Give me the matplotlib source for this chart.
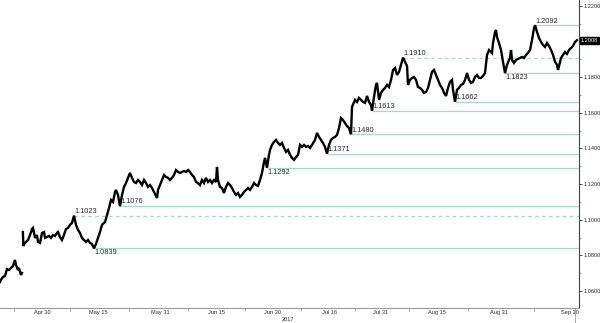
import numpy as np
import matplotlib
matplotlib.use('Agg')
import matplotlib.pyplot as plt
import matplotlib.transforms as mtransforms
from matplotlib.ticker import FixedLocator, MultipleLocator, FuncFormatter

# ---- data (trading days from 1 May 2017, EUR/USD) ----
days = [-9.16, -8.97, -8.58, -8.19, -7.80, -7.41, -7.02, -6.63, -6.24, -6.04, -5.65, -5.46, -5.26, -5.07, -4.87,
        -4.70, -4.60, -4.48, -4.09, -3.70, -3.31, -2.92, -2.73, -2.34, -1.95, -1.75, -1.36, -0.97, -0.58, -0.39,
        0.00, 0.39, 0.78, 1.17, 1.56, 1.95, 2.14, 2.53, 2.92, 3.31, 3.70, 4.09, 4.48, 4.87, 5.26, 5.65, 6.04,
        6.43, 6.82, 7.21, 7.60, 7.99, 8.38, 8.77, 9.16, 9.55, 9.94, 10.33, 10.72, 11.31, 11.70, 12.09, 12.48,
        12.87, 13.26, 13.45, 13.84, 14.23, 14.62, 15.01, 15.40, 15.79, 16.18, 16.57, 16.96, 17.35, 17.74, 18.13,
        18.52, 18.91, 19.30, 19.69, 20.08, 20.47, 20.86, 21.44, 21.64, 22.03, 22.42, 22.81, 23.20, 23.59, 23.98,
        24.37, 24.76, 25.15, 25.54, 25.93, 26.32, 26.71, 27.10, 27.49, 27.88, 28.27, 28.65, 29.04, 29.43, 29.82,
        30.21, 30.60, 30.99, 31.38, 31.77, 32.16, 32.55, 32.94, 33.14, 33.33, 33.72, 34.11, 34.50, 34.89, 35.28,
        35.67, 36.06, 36.45, 36.84, 37.23, 37.62, 38.01, 38.40, 38.79, 39.18, 39.57, 39.96, 40.35, 40.74, 41.13,
        41.52, 41.91, 42.30, 42.50, 42.88, 43.27, 43.47, 43.86, 44.25, 44.64, 45.03, 45.42, 45.81, 46.20, 46.59,
        46.98, 47.37, 47.76, 48.15, 48.54, 48.93, 49.32, 49.71, 50.10, 50.49, 50.88, 51.27, 51.66, 52.24, 52.63,
        53.02, 53.41, 53.80, 54.19, 54.58, 54.97, 55.36, 55.75, 56.14, 56.53, 56.92, 57.31, 57.70, 58.09, 58.48,
        58.87, 59.26, 59.45, 60.04, 60.43, 60.82, 61.21, 61.60, 61.99, 62.38, 62.77, 63.16, 63.35, 63.74, 64.13,
        64.33, 64.72, 65.11, 65.50, 65.89, 66.28, 66.67, 67.06, 67.45, 67.84, 68.23, 68.62, 69.01, 69.40, 69.79,
        70.18, 70.37, 70.76, 71.15, 71.54, 71.93, 72.32, 72.71, 73.10, 73.49, 73.88, 74.27, 74.66, 75.05, 75.44,
        75.83, 76.22, 76.61, 77.00, 77.39, 77.78, 78.17, 78.56, 78.95, 79.14, 79.53, 79.92, 80.31, 80.70, 81.09,
        81.48, 81.87, 82.26, 82.65, 83.04, 83.43, 83.82, 84.21, 84.60, 84.99, 85.38, 85.77, 86.16, 86.55, 86.74,
        86.94, 87.33, 87.52, 87.72, 88.11, 88.50, 88.89, 89.28, 89.67, 90.06, 90.25, 90.45, 90.64, 91.03, 91.42,
        91.81, 92.20, 92.59, 92.98, 93.37, 93.76, 94.15, 94.54, 94.93, 95.13, 95.52, 95.91, 96.30, 96.69, 97.08,
        97.47, 97.86, 98.25, 98.64, 99.03, 99.42, 99.61, 99.81, 100.19, 100.58, 100.97, 101.36, 101.75, 102.14,
        102.53, 102.92, 103.31]

eurusd = [1.0650, 1.0662, 1.0679, 1.0684, 1.0723, 1.0718, 1.0729, 1.0740, 1.0774, 1.0746, 1.0718, 1.0729, 1.0707, 1.0690, 1.0701,
          1.0931, 1.0852, 1.0864, 1.0875, 1.0886, 1.0914, 1.0948, 1.0954, 1.0898, 1.0914, 1.0875, 1.0870, 1.0926, 1.0931, 1.0898,
          1.0903, 1.0909, 1.0898, 1.0914, 1.0909, 1.0926, 1.0931, 1.0903, 1.0886, 1.0914, 1.0948, 1.0954, 1.0971, 1.0982, 1.1023, 1.0971, 1.0943,
          1.0926, 1.0898, 1.0886, 1.0875, 1.0886, 1.0870, 1.0864, 1.0839, 1.0864, 1.0898, 1.0931, 1.0971, 1.0987, 1.1027, 1.1066, 1.1111,
          1.1100, 1.1156, 1.1167, 1.1139, 1.1076, 1.1139, 1.1184, 1.1206, 1.1235, 1.1263, 1.1235, 1.1212, 1.1206, 1.1223, 1.1212,
          1.1195, 1.1223, 1.1206, 1.1184, 1.1195, 1.1178, 1.1156, 1.1122, 1.1167, 1.1195, 1.1223, 1.1251, 1.1240, 1.1235, 1.1223,
          1.1235, 1.1251, 1.1279, 1.1268, 1.1263, 1.1268, 1.1274, 1.1268, 1.1279, 1.1268, 1.1251, 1.1240, 1.1212, 1.1206, 1.1195,
          1.1223, 1.1206, 1.1235, 1.1212, 1.1223, 1.1206, 1.1223, 1.1212, 1.1296, 1.1223, 1.1184, 1.1178, 1.1150, 1.1184, 1.1206,
          1.1195, 1.1178, 1.1156, 1.1139, 1.1150, 1.1128, 1.1139, 1.1156, 1.1167, 1.1178, 1.1167, 1.1184, 1.1206, 1.1195, 1.1190,
          1.1223, 1.1263, 1.1324, 1.1347, 1.1292, 1.1364, 1.1392, 1.1420, 1.1437, 1.1448, 1.1431, 1.1420, 1.1431, 1.1403, 1.1381,
          1.1392, 1.1364, 1.1347, 1.1336, 1.1352, 1.1364, 1.1420, 1.1409, 1.1420, 1.1409, 1.1414, 1.1403, 1.1420, 1.1448, 1.1487,
          1.1465, 1.1448, 1.1431, 1.1409, 1.1371, 1.1420, 1.1448, 1.1459, 1.1465, 1.1476, 1.1515, 1.1571, 1.1560, 1.1543, 1.1526,
          1.1515, 1.1480, 1.1633, 1.1673, 1.1661, 1.1684, 1.1673, 1.1661, 1.1656, 1.1695, 1.1661, 1.1644, 1.1613, 1.1689, 1.1757,
          1.1768, 1.1673, 1.1712, 1.1729, 1.1740, 1.1757, 1.1745, 1.1785, 1.1841, 1.1852, 1.1813, 1.1830, 1.1869, 1.1910, 1.1886,
          1.1863, 1.1757, 1.1785, 1.1796, 1.1802, 1.1785, 1.1745, 1.1740, 1.1729, 1.1712, 1.1717, 1.1740, 1.1785, 1.1830, 1.1841,
          1.1813, 1.1785, 1.1757, 1.1740, 1.1712, 1.1695, 1.1740, 1.1774, 1.1785, 1.1729, 1.1662, 1.1729, 1.1740, 1.1757, 1.1762,
          1.1785, 1.1824, 1.1785, 1.1768, 1.1774, 1.1802, 1.1813, 1.1796, 1.1796, 1.1807, 1.1824, 1.1925, 1.1953, 1.1942, 1.1936,
          1.1992, 1.2054, 1.2065, 1.2026, 1.1992, 1.1953, 1.1886, 1.1823, 1.1869, 1.1897, 1.1908, 1.1953, 1.1897, 1.1880, 1.1897,
          1.1903, 1.1908, 1.1914, 1.1908, 1.1925, 1.1936, 1.1953, 1.2009, 1.2076, 1.2092, 1.2054, 1.2020, 1.1998, 1.1981, 1.1970,
          1.1992, 1.1975, 1.1953, 1.1925, 1.1886, 1.1869, 1.1841, 1.1863, 1.1908, 1.1925, 1.1942, 1.1931, 1.1953, 1.1964,
          1.1975, 1.1998, 1.2008]

session_gap_day = -4.8   # weekend gap (French election) where the line breaks

tick_dates = ['2017-04-30', '2017-05-15', '2017-05-31', '2017-06-15', '2017-06-30',
              '2017-07-16', '2017-07-31', '2017-08-15', '2017-08-31', '2017-09-20']
tick_labels = ['Apr 30', 'May 15', 'May 31', 'Jun 15', 'Jun 30',
               'Jul 16', 'Jul 31', 'Aug 15', 'Aug 31', 'Sep 20']
year_label = '2017'
year_date = '2017-07-05'

level_values = [1.1023, 1.0839, 1.1076, 1.1292, 1.1371, 1.1480, 1.1613, 1.1910, 1.1662, 1.1823, 1.2092]
level_dashed = [True, False, False, False, False, False, False, True, False, False, False]
level_above = [True, False, True, False, True, True, True, True, True, False, True]
last_price = 1.2008

# ---- styling ----
plt.rcParams['font.family'] = ['Liberation Sans', 'DejaVu Sans']
LEVEL_COLOR = '#a6d6cc'
TXT = '#2a2a2a'

fig = plt.figure(figsize=(6.0, 3.23), dpi=100)
ax = fig.add_axes([0.0, 15 / 323, 579 / 600, 308 / 323])

base = np.datetime64('2017-05-01')
tick_pos = np.array([np.busday_count(base, np.datetime64(d)) for d in tick_dates], dtype=float)

x_left, x_right = -9.16, 103.7
ax.set_xlim(x_left, x_right)
ax.set_ylim(1.05043, 1.22337)

d_arr = np.array(days)
p_arr = np.array(eurusd)
pre = d_arr < session_gap_day
for mask in (pre, ~pre):
    ax.plot(d_arr[mask], p_arr[mask], color='black', lw=1.7, solid_joinstyle='miter', zorder=3)

# support / resistance levels
for val, dashed, above in zip(level_values, level_dashed, level_above):
    start = days[eurusd.index(val)]
    ax.hlines(val, start, x_right, colors=LEVEL_COLOR, lw=0.9,
              linestyles=(0, (3, 2.5)) if dashed else 'solid', zorder=2)
    ax.annotate(f'{val:.4f}', (start, val), xytext=(0, 0.5 if above else -0.6),
                textcoords='offset points', ha='left',
                va='bottom' if above else 'top', fontsize=5.3, color=TXT, zorder=4)

# axes styling
for s in ['top', 'left']:
    ax.spines[s].set_visible(False)
ax.spines['right'].set_color('#444444')
ax.spines['right'].set_linewidth(0.8)
ax.spines['bottom'].set_color('#9a9a9a')
ax.spines['bottom'].set_linewidth(0.8)


def price_fmt(v, pos):
    # the 1.2000 label sits under the last-price box
    if abs(v - round(last_price, 2)) < 1e-6:
        return ''
    return f'{v:.4f}'


ax.yaxis.tick_right()
ax.yaxis.set_major_locator(MultipleLocator(0.02))
ax.yaxis.set_minor_locator(MultipleLocator(0.01))
ax.yaxis.set_major_formatter(FuncFormatter(price_fmt))
ax.tick_params(axis='y', which='major', length=2, width=0.6, pad=1,
               labelsize=4.1, colors=TXT)
ax.tick_params(axis='y', which='minor', length=1.2, width=0.5, colors='#777777')

ax.xaxis.set_major_locator(FixedLocator(tick_pos))
ax.set_xticklabels(tick_labels)
mids = (tick_pos[:-1] + tick_pos[1:]) / 2
minor_pos = np.concatenate([[tick_pos[0] - (tick_pos[1] - tick_pos[0]) / 2], mids])
ax.xaxis.set_minor_locator(FixedLocator(minor_pos))
ax.tick_params(axis='x', which='major', length=0, pad=1.5, labelsize=4.1, colors=TXT)
ax.tick_params(axis='x', which='minor', length=2, width=0.6, colors='#9a9a9a')

# year label
trans_xa = mtransforms.blended_transform_factory(ax.transData, ax.transAxes)
year_pos = float(np.busday_count(base, np.datetime64(year_date)))
ax.text(year_pos, -0.03, year_label, transform=trans_xa, ha='center', va='top',
        fontsize=4.1, color=TXT)

# current-time marker below axis
ax.plot([days[-1] - 0.3, days[-1] - 0.3], [0, -0.05], transform=trans_xa, clip_on=False,
        color='#9a9a9a', lw=0.6)

# last price box on the right axis
trans_ad = mtransforms.blended_transform_factory(ax.transAxes, ax.transData)
ax.text(1.003, last_price, f'{last_price:.4f}', transform=trans_ad, ha='left', va='center',
        fontsize=4.1, color='white', zorder=10,
        bbox=dict(boxstyle='square,pad=0.2', fc='black', ec='black'))

fig.savefig('out.png', dpi=100, facecolor='white')
